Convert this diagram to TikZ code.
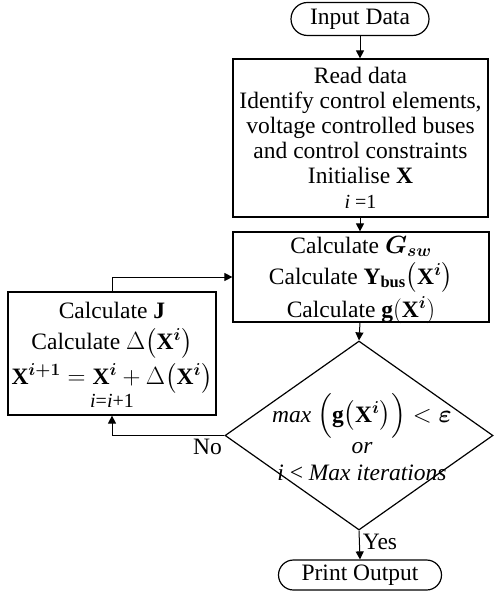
\documentclass[tikz,border=0pt]{standalone}
\usepackage{amsmath,bm}
\usepackage{fontspec}
\setmainfont{Liberation Serif}
\usetikzlibrary{arrows.meta,shapes.geometric,shapes.misc}
\begin{document}
\begin{tikzpicture}[x=1pt,y=-1pt,
  every node/.style={font=\fontsize{23.5}{25}\selectfont},
  boxstyle/.style={draw,line width=1.2pt,align=center,inner sep=0pt},
  txt/.style={align=center,inner sep=0pt},
  termstyle/.style={draw,line width=1.2pt,rounded rectangle,inner sep=0pt},
  arr/.style={line width=1pt,-{Triangle[length=8pt,width=8pt]}}]
\useasboundingbox (0,0) rectangle (493,593);
\node[termstyle,minimum width=138pt,minimum height=33pt] (inp) at (360,19) {Input Data};
\node[boxstyle,minimum width=255pt,minimum height=158pt] (read) at (360.5,138) {Read data\\Identify control elements,\\voltage controlled buses\\and control constraints\\Initialise \textbf{X}\\[0pt]{\fontsize{20}{22}\selectfont\textit{i} =1}};
\node[boxstyle,minimum width=256pt,minimum height=90pt] (calc) at (361,277) {};
\node[txt] (calctxt) at (361,280) {Calculate $\bm{G_{sw}}$\\[6pt]
Calculate $\mathbf{Y_{bus}}\big(\mathbf{X}^{\bm{i}}\big)$\\[3pt]
Calculate $\mathbf{g}(\mathbf{X}^{\bm{i}})$};
\node[boxstyle,minimum width=208pt,minimum height=123pt] (left) at (112,353.5) {};
\node[txt] (lefttxt) at (112,355) {Calculate $\mathbf{J}$\\[6pt]
Calculate $\Delta\big(\mathbf{X}^{\bm{i}}\big)$\\[4pt]
$\mathbf{X}^{\bm{i+1}} = \mathbf{X}^{\bm{i}} + \Delta\big(\mathbf{X}^{\bm{i}}\big)$\\[-2pt]
{\fontsize{20}{22}\selectfont\textit{i}=\textit{i}+1}};
\node[draw,line width=1.2pt,diamond,minimum width=268pt,minimum height=189pt,inner sep=0pt] (dia) at (359,435.5) {};
\node[txt] (diatxt) at (362,437) {\textit{max} $\Big(\mathbf{g}\big(\mathbf{X}^{\bm{i}}\big)\Big) < \bm{\varepsilon}$\\[3pt]
\textit{or}\\[2pt]
\textit{i} < \textit{Max iterations}};
\node[termstyle,minimum width=163pt,minimum height=30pt] (out) at (360,575) {Print Output};
\draw[arr] (inp.south) -- (read.north -| inp.south);
\draw[arr] (read.south -| inp.south) -- (calc.north -| inp.south);
\draw[arr] (calc.south -| inp.south) -- (dia.north);
\draw[arr] (dia.south) -- node[right,pos=0.4,inner sep=3pt] (yes) {Yes} (out.north);
\draw[arr] (dia.west) -- node[below,pos=0.15,inner sep=3pt] (no) {No} (dia.west -| left.south) -- (left.south);
\draw[arr] (left.north) |- (calc.west);
\end{tikzpicture}
\end{document}
